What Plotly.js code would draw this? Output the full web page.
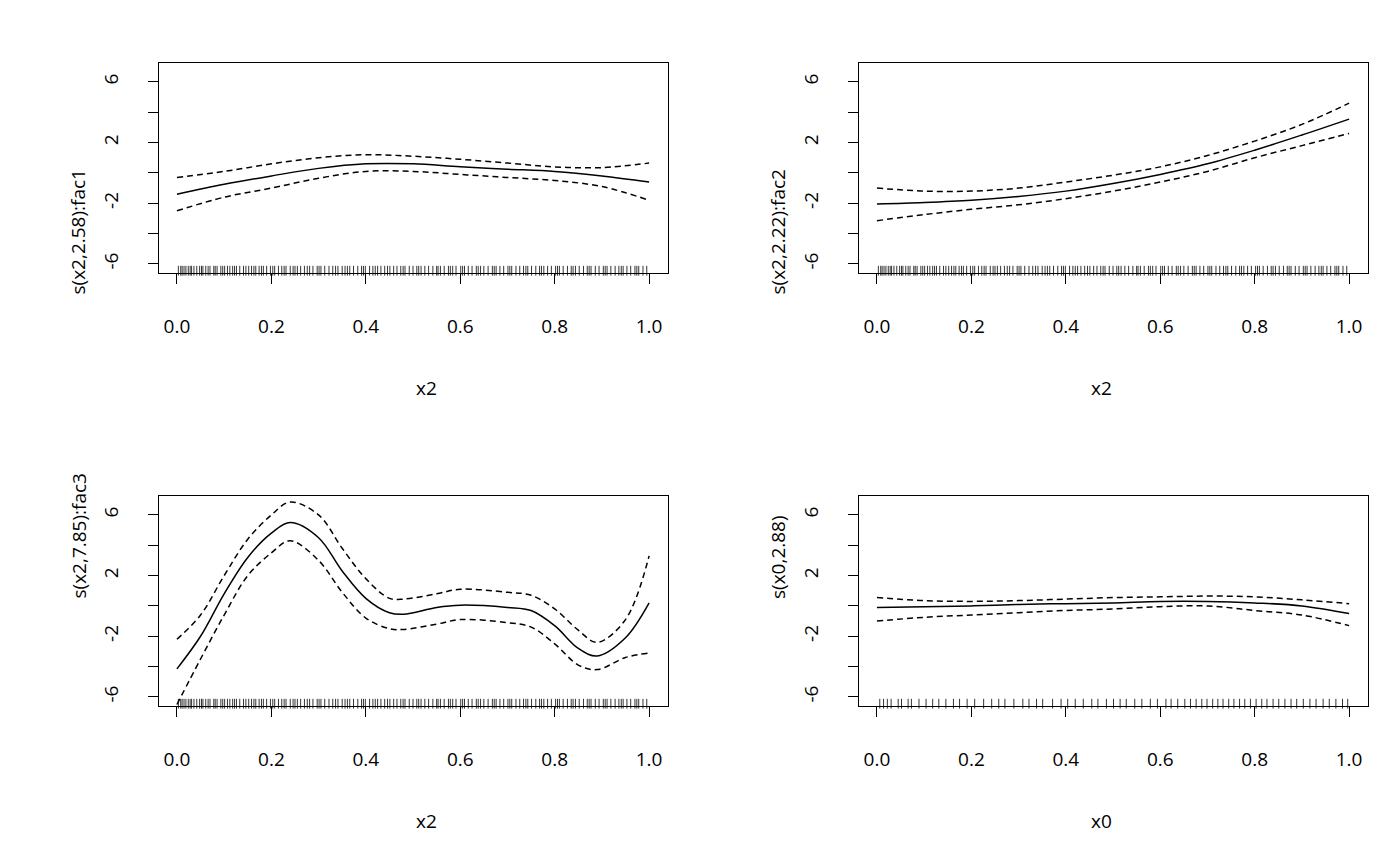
<!DOCTYPE html>
<html><head><meta charset="utf-8">
<script src="https://cdn.plot.ly/plotly-3.0.1.min.js"></script>
<style>body{margin:0;background:#fff}#p{width:1400px;height:866px}</style>
</head><body><div id="p"></div>
<script>
// panel 1: s(x2,2.58):fac1
const x1 = [0, 0.1, 0.2, 0.3, 0.4, 0.5, 0.6, 0.7, 0.8, 0.9, 1.0];
const fit1 = [-1.4, -0.75, -0.2, 0.3, 0.6, 0.6, 0.4, 0.25, 0.1, -0.2, -0.6];
const up1 = [-0.3, 0.1, 0.6, 1.0, 1.2, 1.1, 0.9, 0.65, 0.4, 0.35, 0.65];
const lo1 = [-2.5, -1.6, -1.0, -0.35, 0.1, 0.1, -0.1, -0.3, -0.5, -0.9, -1.8];
// panel 2: s(x2,2.22):fac2
const x2 = [0, 0.1, 0.2, 0.3, 0.4, 0.5, 0.6, 0.7, 0.8, 0.9, 1.0];
const fit2 = [-2.05, -1.95, -1.8, -1.55, -1.2, -0.7, -0.1, 0.6, 1.5, 2.5, 3.55];
const up2 = [-1.0, -1.2, -1.2, -1.0, -0.6, -0.15, 0.4, 1.15, 2.1, 3.2, 4.6];
const lo2 = [-3.15, -2.75, -2.4, -2.1, -1.7, -1.2, -0.6, 0.1, 1.0, 1.8, 2.6];
// panel 3: s(x2,7.85):fac3
const x3 = [0, 0.05, 0.1, 0.15, 0.2, 0.24, 0.3, 0.35, 0.4, 0.45, 0.48, 0.55, 0.6, 0.7, 0.75, 0.8, 0.85, 0.89, 0.95, 1.0];
const fit3 = [-4.15, -2.0, 0.8, 3.2, 4.8, 5.5, 4.5, 2.3, 0.5, -0.45, -0.55, -0.1, 0.05, -0.1, -0.3, -1.3, -2.8, -3.3, -2.1, 0.2];
const up3 = [-2.2, -0.6, 2.0, 4.4, 6.0, 6.85, 6.0, 3.8, 1.8, 0.5, 0.45, 0.8, 1.1, 0.9, 0.7, -0.2, -1.6, -2.4, -0.9, 3.3];
const lo3 = [-6.5, -3.5, -0.6, 2.0, 3.5, 4.3, 3.0, 0.9, -0.8, -1.5, -1.55, -1.2, -0.9, -1.1, -1.4, -2.5, -3.9, -4.2, -3.4, -3.1];
// panel 4: s(x0,2.88)
const x4 = [0, 0.1, 0.2, 0.3, 0.4, 0.5, 0.6, 0.7, 0.8, 0.9, 1.0];
const fit4 = [-0.1, -0.05, 0.0, 0.1, 0.15, 0.2, 0.3, 0.3, 0.2, 0.0, -0.5];
const up4 = [0.55, 0.35, 0.3, 0.35, 0.45, 0.55, 0.6, 0.65, 0.6, 0.4, 0.15];
const lo4 = [-1.0, -0.75, -0.6, -0.45, -0.3, -0.2, -0.05, 0.0, -0.3, -0.6, -1.3];
// rug values
const rugX2 = [0.003,0.008,0.011,0.015,0.019,0.024,0.028,0.031,0.036,0.042,0.048,0.052,0.055,0.061,0.066,0.07,0.078,0.081,0.085,0.093,0.097,0.101,0.107,0.112,0.118,0.122,0.126,0.133,0.141,0.146,0.152,0.158,0.163,0.167,0.174,0.179,0.183,0.19,0.198,0.203,0.207,0.215,0.222,0.227,0.231,0.24,0.246,0.25,0.255,0.262,0.27,0.276,0.281,0.288,0.297,0.301,0.305,0.313,0.322,0.33,0.336,0.341,0.35,0.356,0.361,0.366,0.374,0.383,0.391,0.395,0.399,0.408,0.415,0.42,0.425,0.432,0.44,0.446,0.451,0.459,0.466,0.474,0.479,0.483,0.492,0.5,0.508,0.512,0.517,0.525,0.533,0.542,0.55,0.553,0.558,0.566,0.575,0.579,0.584,0.591,0.601,0.605,0.609,0.617,0.625,0.634,0.638,0.643,0.65,0.659,0.668,0.672,0.676,0.684,0.692,0.701,0.705,0.709,0.718,0.726,0.734,0.739,0.743,0.751,0.76,0.768,0.772,0.777,0.785,0.793,0.802,0.806,0.81,0.818,0.827,0.835,0.839,0.844,0.852,0.861,0.869,0.873,0.877,0.886,0.894,0.903,0.907,0.911,0.919,0.928,0.936,0.941,0.945,0.953,0.961,0.97,0.974,0.978,0.987,0.995];
const rugX0 = [0.006,0.014,0.022,0.03,0.045,0.052,0.066,0.073,0.089,0.104,0.118,0.131,0.146,0.162,0.175,0.191,0.207,0.226,0.243,0.258,0.271,0.29,0.309,0.322,0.338,0.351,0.372,0.39,0.404,0.42,0.437,0.455,0.468,0.486,0.501,0.515,0.528,0.546,0.561,0.579,0.594,0.612,0.623,0.637,0.652,0.664,0.676,0.688,0.699,0.711,0.722,0.733,0.745,0.756,0.768,0.779,0.791,0.803,0.815,0.826,0.839,0.851,0.864,0.877,0.889,0.903,0.917,0.93,0.945,0.958,0.972,0.986,0.997];

const panels = [
  {x: x1, fit: fit1, up: up1, lo: lo1, rug: rugX2, yt: 's(x2,2.58):fac1', xt: 'x2'},
  {x: x2, fit: fit2, up: up2, lo: lo2, rug: rugX2, yt: 's(x2,2.22):fac2', xt: 'x2'},
  {x: x3, fit: fit3, up: up3, lo: lo3, rug: rugX2, yt: 's(x2,7.85):fac3', xt: 'x2'},
  {x: x4, fit: fit4, up: up4, lo: lo4, rug: rugX0, yt: 's(x0,2.88)', xt: 'x0'},
];
const xDom = [[159/1400, 668/1400], [859/1400, 1368/1400]];
const yDom = [[1-273/866, 1-63/866], [1-706/866, 1-496/866]];
const F = 'Open Sans, Noto Sans, sans-serif';

const traces = [], annotations = [];
const layout = {
  width: 1400, height: 866, margin: {l: 0, r: 0, t: 0, b: 0},
  paper_bgcolor: '#fff', plot_bgcolor: '#fff', showlegend: false,
  font: {family: F, size: 19, color: '#000'},
};
panels.forEach((p, i) => {
  const n = i + 1, sx = n === 1 ? '' : n;
  const xa = 'x' + sx, ya = 'y' + sx;
  const line = {color: '#000', width: 1.5, shape: 'spline'};
  traces.push({x: p.x, y: p.fit, xaxis: xa, yaxis: ya, mode: 'lines', line});
  traces.push({x: p.x, y: p.up, xaxis: xa, yaxis: ya, mode: 'lines', line: {...line, dash: '6px,4px'}});
  traces.push({x: p.x, y: p.lo, xaxis: xa, yaxis: ya, mode: 'lines', line: {...line, dash: '6px,4px'}});
  traces.push({x: p.rug, y: p.rug.map(() => -6.45), xaxis: xa, yaxis: ya, mode: 'markers',
    marker: {symbol: 'line-ns', size: 7, line: {color: '#000', width: 0.8}}, cliponaxis: false});
  const col = i % 2, row = Math.floor(i / 2);
  layout['xaxis' + sx] = {
    domain: xDom[col], anchor: ya, range: [-0.038, 1.04],
    tickvals: [0, 0.2, 0.4, 0.6, 0.8, 1.0], ticktext: ['0.0', '0.2', '0.4', '0.6', '0.8', '1.0'],
    tickfont: {size: 19},
    ticks: 'outside', ticklen: 10, tickcolor: '#000', ticklabelstandoff: 26,
    showline: true, mirror: true, linecolor: '#000', linewidth: 1, showgrid: false, zeroline: false,
  };
  layout['yaxis' + sx] = {
    domain: yDom[row], anchor: xa, range: [-6.6, 7.25],
    tickvals: [-6, -4, -2, 0, 2, 4, 6], ticktext: ['-6', '', '-2', '', '2', '', '6'],
    tickfont: {size: 19},
    tickangle: -90, ticks: 'outside', ticklen: 10, tickcolor: '#000', ticklabelstandoff: 22,
    showline: true, mirror: true, linecolor: '#000', linewidth: 1, showgrid: false, zeroline: false,
  };
  const cx = (xDom[col][0] + xDom[col][1]) / 2;
  const y0 = yDom[row][0], y1 = yDom[row][1];
  annotations.push({text: p.xt, xref: 'paper', yref: 'paper', x: cx, y: y0 - 115/866,
    showarrow: false, font: {size: 19}, yanchor: 'middle'});
  annotations.push({text: p.yt, xref: 'paper', yref: 'paper', x: xDom[col][0] - 81/1400, y: (y0 + y1) / 2,
    showarrow: false, textangle: -90, font: {size: 19}, xanchor: 'center'});
});
layout.annotations = annotations;
Plotly.newPlot('p', traces, layout, {displayModeBar: false, staticPlot: true});
</script></body></html>
